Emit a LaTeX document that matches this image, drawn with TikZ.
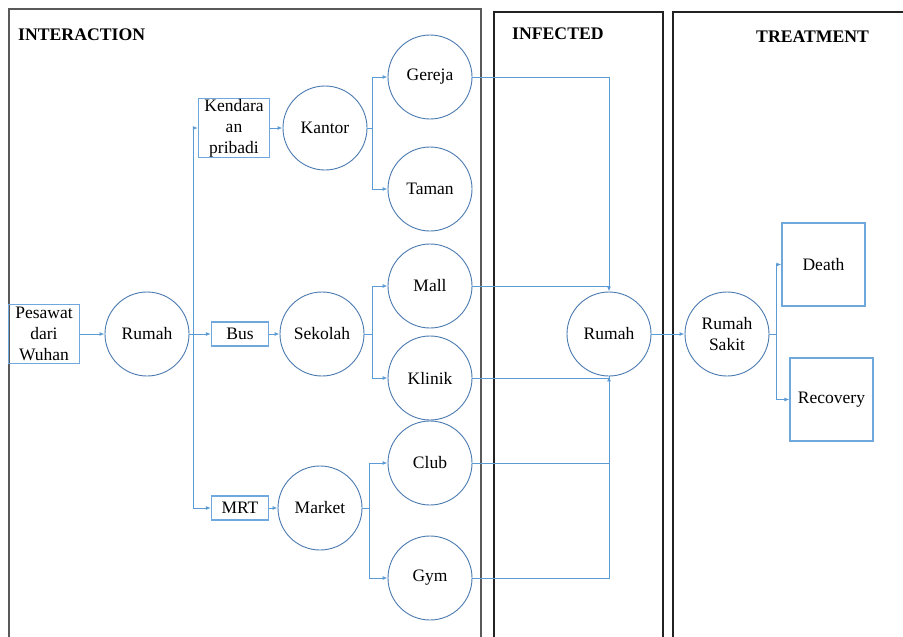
\documentclass[tikz,border=0pt]{standalone}
\usepackage{fontspec}
\setmainfont{Liberation Serif}
\usetikzlibrary{arrows.meta}
\definecolor{circlecol}{HTML}{4A7AB0}
\definecolor{boxcol}{HTML}{6FA8DC}
\definecolor{linecol}{HTML}{5B9BD5}
\definecolor{panelcol}{HTML}{222222}
\tikzset{
  place/.style={circle,draw=circlecol,line width=0.9pt,minimum size=84pt,inner sep=0pt,align=center},
  stepbox/.style={rectangle,draw=boxcol,line width=1.2pt,inner sep=0pt,align=center},
  conn/.style={draw=linecol,line width=1pt,-{Latex[length=5pt,width=4pt]}},
  plain/.style={draw=linecol,line width=1pt},
  panel/.style={draw=panelcol,line width=1.1pt},
  heading/.style={font=\bfseries\fontsize{17.7}{20}\selectfont,inner sep=0pt}
}
\begin{document}
\begin{tikzpicture}[x=1pt,y=-1pt,font=\fontsize{17.5}{21}\selectfont]
\useasboundingbox (0,0) rectangle (903,637);
\fill[white] (0,0) rectangle (903,637);

% stage panels (open at the bottom)
\draw[panel,draw=gray!70!black] (9,640) -- (9,9) -- (481,9) -- (481,640);
\draw[panel] (494,640) -- (494,12) -- (663,12) -- (663,640);
\draw[panel] (673,640) -- (673,12) -- (910,12);

\node[heading,anchor=west] (hInter) at (18,35) {INTERACTION};
\node[heading,anchor=west] (hInf) at (512,34) {INFECTED};
\node[heading,anchor=west] (hTreat) at (756,37) {TREATMENT};

% interaction stage
\node[stepbox,minimum width=71pt,minimum height=59pt] (pes) at (44,334) {Pesawat\\dari\\Wuhan};
\node[place] (rum1) at (147,334) {Rumah};
\node[stepbox,minimum width=71pt,minimum height=59pt] (kend) at (234,128) {Kendara\\an\\pribadi};
\node[stepbox,minimum width=57pt,minimum height=24pt] (bus) at (240,334) {Bus};
\node[stepbox,minimum width=57pt,minimum height=24pt] (mrt) at (240,508) {MRT};
\node[place] (kantor) at (325,128) {Kantor};
\node[place] (sekolah) at (322,334) {Sekolah};
\node[place] (market) at (320,508) {Market};
\node[place] (gereja) at (430,77) {Gereja};
\node[place] (taman) at (430,189) {Taman};
\node[place] (mall) at (430,286) {Mall};
\node[place] (klinik) at (430,378) {Klinik};
\node[place] (club) at (430,463) {Club};
\node[place] (gym) at (430,578) {Gym};

% infected and treatment stages
\node[place] (rum2) at (609,334) {Rumah};
\node[place] (rs) at (727,334) {Rumah\\Sakit};
\node[stepbox,minimum width=83pt,minimum height=83pt] (death) at (823.5,264.5) {Death};
\node[stepbox,minimum width=83pt,minimum height=83pt] (recov) at (831.5,399.5) {Recovery};

% branch points
\coordinate (b1) at (193,334);
\coordinate (b2) at (372,128);
\coordinate (b3) at (372,334);
\coordinate (b4) at (369,508);
\coordinate (b5) at (776,334);

\draw[conn] (pes) -- (rum1);
\draw[plain] (rum1) -- (b1);
\draw[conn] (b1) |- (kend);
\draw[conn] (b1) -- (bus);
\draw[conn] (b1) |- (mrt);
\draw[conn] (kend) -- (kantor);
\draw[conn] (bus) -- (sekolah);
\draw[conn] (mrt) -- (market);

\draw[plain] (kantor) -- (b2);
\draw[conn] (b2) |- (gereja);
\draw[conn] (b2) |- (taman);
\draw[plain] (sekolah) -- (b3);
\draw[conn] (b3) |- (mall);
\draw[conn] (b3) |- (klinik);
\draw[plain] (market) -- (b4);
\draw[conn] (b4) |- (club);
\draw[conn] (b4) |- (gym);

% everything gathers at the infected home
\draw[conn] (gereja.east) -| (rum2.north);
\draw[plain] (mall.east) -- (rum2.north |- mall.east);
\draw[plain] (klinik.east) -- (rum2.south |- klinik.east);
\draw[plain] (club.east) -| (rum2.south);
\draw[conn] (gym.east) -| (rum2.south);

\draw[conn] (rum2) -- (rs);
\draw[plain] (rs) -- (b5);
\draw[conn] (b5) |- (death);
\draw[conn] (b5) |- (recov);
\end{tikzpicture}
\end{document}
